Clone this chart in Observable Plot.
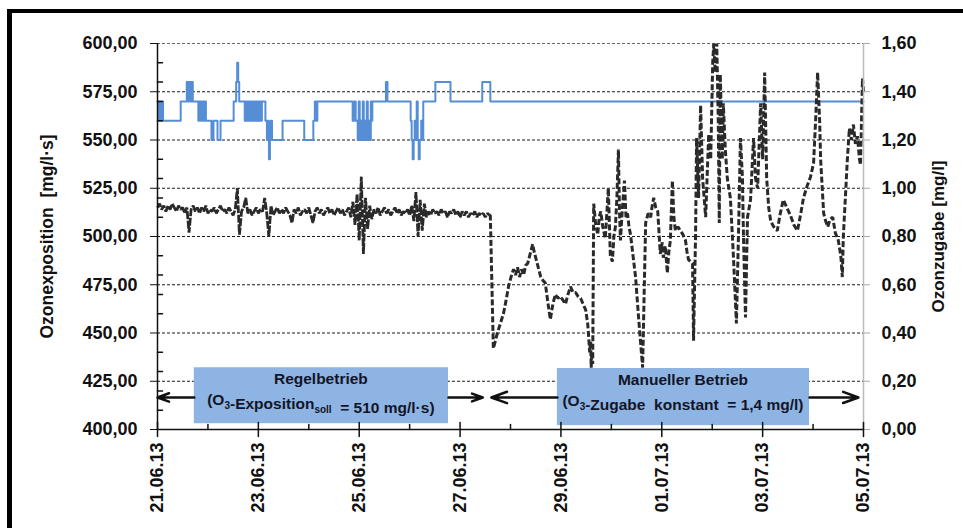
<!DOCTYPE html>
<html><head><meta charset="utf-8">
<script src="https://cdn.jsdelivr.net/npm/d3@7"></script>
<script src="https://cdn.jsdelivr.net/npm/@observablehq/plot@0.6"></script>
<style>
body{margin:0;background:#fff;}
#wrap{position:relative;width:963px;height:528px;overflow:hidden;background:#fff;}
#frame{position:absolute;left:7px;top:9px;width:970px;height:540px;border-left:5px solid #000;border-top:4px solid #000;box-sizing:border-box;pointer-events:none}
</style></head><body><div id="wrap"><div id="chart"></div><div id="frame"></div></div>
<script>
const start = Date.UTC(2013, 5, 21);
const DAY = 864e5;
const xMajorDays = [0, 2, 4, 6, 8, 10, 12, 14];
const xMinorDays = [1, 3, 5, 7, 9, 11, 13];
const yTicks = [400, 425, 450, 475, 500, 525, 550, 575, 600];
const yMinor = [410, 420, 430, 440, 460, 470, 480, 490, 510, 520, 530, 540, 560, 570, 580, 590];

// Ozonexposition [mg/l·s], hourly, 21.06.13 00:00 onwards (Regelbetrieb)
const expHourly = [
515,517,514,516,513,516,514,517,515,513,
516,514,515,512,515,502,514,516,513,515,
512,515,513,516,512,514,513,515,512,514,
516,513,514,512,515,513,511,514,525,501,
513,515,520,512,514,511,513,515,512,514,
513,520,512,500,516,511,513,515,512,514,
512,515,513,511,507,514,512,515,511,513,
514,512,515,511,507,513,515,512,514,511,
513,515,512,514,511,513,515,512,514,511,
513,515,510,518,506,522,498,531,491,520,
504,516,509,514,512,515,511,513,515,512,
514,511,513,515,512,514,511,513,512,514,
511,516,508,523,500,519,503,517,510,513,
511,514,512,513,511,514,512,513,510,513,
512,514,511,513,510,513,511,513,510,512,
511,513,510,512,511,512,510,512,511
];
// Ozonexposition [mg/l·s], manual operation: [days since 21.06.13, value]
const expManual = [
[6.583,511],[6.60,511],[6.66,442],[6.70,446],[6.74,450],[6.80,455],[6.86,460],[6.92,468],[6.96,474],[7.01,479],[7.06,483],
[7.10,480],[7.14,484],[7.18,479],[7.22,483],[7.26,480],[7.30,485],[7.34,486],[7.39,491],[7.44,496],[7.47,492],
[7.50,489],[7.55,484],[7.60,479],[7.65,477],[7.69,476],[7.74,466],[7.79,457],[7.84,465],[7.89,470],[7.94,468],
[7.99,469],[8.04,467],[8.09,465],[8.14,470],[8.19,474],[8.24,471],[8.29,471],[8.34,469],[8.39,468],[8.44,465],
[8.49,462],[8.53,455],[8.55,448],[8.57,440],[8.59,446],[8.60,432],[8.61,438],[8.63,434],[8.65,517],[8.69,506],
[8.73,501],[8.76,510],[8.79,513],[8.83,505],[8.88,499],[8.91,512],[8.94,525],[8.98,490],[9.02,487],[9.05,500],
[9.08,505],[9.11,520],[9.14,545],[9.16,515],[9.18,498],[9.22,515],[9.26,529],[9.29,510],[9.32,512],[9.35,505],
[9.38,501],[9.43,490],[9.48,479],[9.54,458],[9.58,445],[9.62,432],[9.65,470],[9.68,507],[9.73,512],[9.78,510],
[9.81,516],[9.84,520],[9.88,515],[9.92,513],[9.95,500],[9.97,491],[10.01,497],[10.03,489],[10.07,495],[10.11,481],
[10.14,492],[10.17,498],[10.21,529],[10.24,510],[10.27,503],[10.32,505],[10.37,503],[10.42,501],[10.47,498],[10.50,492],
[10.53,488],[10.57,487],[10.61,486],[10.63,446],[10.67,501],[10.69,551],[10.73,520],[10.77,568],[10.81,530],[10.87,510],
[10.93,553],[10.97,540],[11.01,590],[11.03,600],[11.06,585],[11.09,600],[11.12,560],[11.14,507],[11.16,584],[11.20,540],
[11.22,569],[11.26,545],[11.30,530],[11.36,520],[11.42,490],[11.48,455],[11.52,500],[11.56,551],[11.60,530],[11.62,500],
[11.66,458],[11.70,510],[11.76,519],[11.82,551],[11.86,530],[11.90,525],[11.96,569],[12.00,540],[12.04,585],[12.08,530],
[12.12,515],[12.16,508],[12.22,505],[12.29,503],[12.35,512],[12.41,519],[12.48,515],[12.55,511],[12.62,506],[12.69,503],
[12.75,511],[12.81,520],[12.88,526],[12.95,531],[13.01,538],[13.05,560],[13.09,585],[13.13,560],[13.15,540],[13.21,512],
[13.25,508],[13.29,505],[13.34,509],[13.39,510],[13.44,502],[13.50,498],[13.55,490],[13.58,479],[13.60,500],[13.68,540],
[13.72,556],[13.76,550],[13.80,558],[13.84,548],[13.88,552],[13.92,540],[13.94,537],[13.98,582],[14.00,575]
];
// Ozonzugabe [mg/l]: [days since 21.06.13, value] (step)
const zugabe = [
[0,1.36],[0.03,1.28],[0.05,1.36],[0.07,1.28],[0.09,1.36],[0.11,1.28],[0.46,1.36],
[0.58,1.44],[0.61,1.36],[0.63,1.44],[0.66,1.36],[0.68,1.44],[0.70,1.36],
[0.81,1.28],[0.83,1.36],[0.86,1.28],[0.88,1.36],[0.91,1.28],[0.93,1.36],[0.96,1.28],
[1.07,1.20],[1.11,1.28],[1.19,1.20],[1.25,1.28],[1.51,1.36],
[1.56,1.44],[1.58,1.52],[1.60,1.44],[1.62,1.36],
[1.73,1.28],[1.75,1.36],[1.77,1.28],[1.79,1.36],[1.81,1.28],[1.83,1.36],[1.85,1.28],[1.87,1.36],[1.89,1.28],
[1.91,1.36],[1.93,1.28],[1.95,1.36],[1.97,1.28],[1.99,1.36],[2.01,1.28],[2.03,1.36],[2.05,1.28],[2.07,1.36],
[2.14,1.28],[2.17,1.20],[2.19,1.28],[2.21,1.12],[2.23,1.20],[2.25,1.28],[2.27,1.20],
[2.48,1.28],[2.91,1.20],[3.09,1.28],[3.12,1.36],[3.14,1.28],[3.17,1.36],
[3.87,1.28],[3.90,1.36],[3.93,1.28],
[3.97,1.20],[3.99,1.36],[4.01,1.20],[4.03,1.28],[4.05,1.20],[4.07,1.36],[4.09,1.20],[4.11,1.28],[4.13,1.20],
[4.15,1.36],[4.17,1.20],[4.19,1.28],[4.21,1.20],[4.23,1.36],[4.25,1.28],[4.26,1.36],
[4.53,1.44],[4.56,1.36],
[5.02,1.28],[5.04,1.20],[5.06,1.12],[5.08,1.20],[5.10,1.28],[5.12,1.20],[5.14,1.36],[5.16,1.20],[5.18,1.12],
[5.20,1.20],[5.23,1.28],[5.25,1.20],[5.27,1.36],
[5.51,1.44],[5.81,1.36],[6.44,1.44],[6.60,1.36],[14,1.36]
];
const labels = {
  left: "Ozonexposition\u00A0\u00A0[mg/l·s]",
  right: "Ozonzugabe [mg/l]",
  box1a: "Regelbetrieb",
  box2a: "Manueller Betrieb"
};
// annotation layout (days / left-axis units)
const boxes = [
  {x1: 0.73, x2: 5.77, y1: 403, y2: 432},
  {x1: 7.93, x2: 12.93, y1: 402, y2: 431.6}
];
const arrows = [
  {x1: 0.73, x2: 0.0, y: 416.6},
  {x1: 5.77, x2: 6.45, y: 416.6},
  {x1: 7.93, x2: 6.62, y: 416.6},
  {x1: 12.93, x2: 13.9, y: 416.6}
];

const D = d => new Date(start + d * DAY);
const toLeft = v => 400 + v * 125;
const comma = v => v.toFixed(2).replace(".", ",");
const expReg = expHourly.map((v, h) => ({t: new Date(start + h * 36e5), v}));
const expMan = expManual.map(([d, v]) => ({t: D(d), v}));
const zug = zugabe.map(([d, v]) => ({t: D(d), y: toLeft(v)}));
const line = {draw(ctx, l) { ctx.moveTo(0, 0); ctx.lineTo(0, -l); }};
const FONT = "'Liberation Sans', Arial, sans-serif";

const chart = Plot.plot({
  width: 963, height: 528,
  marginLeft: 157, marginRight: 100, marginTop: 43, marginBottom: 99,
  style: {fontFamily: FONT, background: "white", color: "#111", overflow: "visible"},
  x: {type: "utc", domain: [D(0), D(14)]},
  y: {domain: [400, 600]},
  marks: [
    Plot.ruleY(yTicks.filter(v => v > 400 && v < 600), {stroke: "#1a1a1a", strokeDasharray: "3,2", strokeWidth: 1}),
    Plot.ruleY([600], {stroke: "#666", strokeDasharray: "3,2", strokeWidth: 1}),
    Plot.line(zug, {x: "t", y: "y", curve: "step-after", stroke: "#558ed5", strokeWidth: 2}),
    Plot.line(expReg, {x: "t", y: "v", stroke: "#2a2a2a", strokeWidth: 2.8, strokeDasharray: "8,1.5", strokeLinecap: "butt", strokeLinejoin: "miter"}),
    Plot.line(expMan, {x: "t", y: "v", stroke: "#2a2a2a", strokeWidth: 3, strokeDasharray: "6,2.5", strokeLinecap: "butt", strokeLinejoin: "miter"}),
    Plot.rect(boxes, {x1: d => D(d.x1), x2: d => D(d.x2), y1: "y1", y2: "y2", fill: "#8db4e2"}),
    Plot.arrow(arrows, {x1: d => D(d.x1), x2: d => D(d.x2), y1: "y", y2: "y", stroke: "#111", strokeWidth: 2.5, headLength: 10, headAngle: 40}),
    Plot.ruleX([D(0)], {stroke: "#111", strokeWidth: 1.5}),
    Plot.ruleX([D(14)], {stroke: "#bbb", strokeWidth: 1.5}),
    Plot.ruleY([400], {stroke: "#111", strokeWidth: 1.5}),
    Plot.axisY({anchor: "left", ticks: yTicks, tickFormat: comma, tickSize: 7, tickPadding: 13, fontSize: 18, fontWeight: "bold", label: null}),
    Plot.vector(yMinor, {x: () => D(0), y: d => d, rotate: 90, length: 5, anchor: "start", shape: line, stroke: "#111"}),
    Plot.axisY({anchor: "right", ticks: yTicks, tickFormat: v => comma((v - 400) / 125), tickSize: 6, tickPadding: 12, fontSize: 18, fontWeight: "bold", stroke: "#aaa", fill: "#111", label: null}),
    Plot.axisX({ticks: xMajorDays.map(D), tickFormat: d3.utcFormat("%d.%m.%y"), tickRotate: -90, tickSize: 0, tickPadding: 13, fontSize: 18, fontWeight: "bold", label: null}),
    Plot.vector(xMajorDays, {x: d => D(d), y: () => 400, length: 14, anchor: "middle", shape: line, stroke: "#111", strokeWidth: 1.5}),
    Plot.vector(xMinorDays, {x: d => D(d), y: () => 400, length: 5, anchor: "start", shape: line, stroke: "#111", strokeWidth: 1.5}),
    Plot.text([labels.left], {frameAnchor: "left", dx: -110, rotate: -90, textAnchor: "middle", fontSize: 17.5, fontWeight: "bold", fill: "#111"}),
    Plot.text([labels.right], {frameAnchor: "right", dx: 75, rotate: -90, textAnchor: "middle", fontSize: 17, fontWeight: "bold", fill: "#111"})
  ]
});
document.getElementById("chart").appendChild(chart);

// box texts with subscripts
const sx = chart.scale("x"), sy = chart.scale("y");
const svg = d3.select(chart);
const g = svg.append("g").attr("font-family", FONT).attr("font-weight", "bold").attr("font-size", 15.5)
  .attr("fill", "#141428").attr("text-anchor", "middle");
function boxText(b, title, parts) {
  const cx = (sx.apply(D(b.x1)) + sx.apply(D(b.x2))) / 2;
  const ytop = sy.apply(b.y2);
  g.append("text").attr("x", cx).attr("y", ytop + 17).text(title);
  const t = g.append("text").attr("x", cx).attr("y", ytop + 38).attr("xml:space", "preserve");
  parts.forEach(([s, sub]) => {
    t.append("tspan").attr("font-size", sub ? 10 : 15.5).attr("dy", sub ? 4 : 0).text(s);
    if (sub) t.append("tspan").attr("dy", -4).text("");
  });
}
boxText(boxes[0], labels.box1a, [["(O", 0], ["3", 1], ["-Exposition", 0], ["soll", 1], ["\u00A0 = 510 mg/l·s)", 0]]);
boxText(boxes[1], labels.box2a, [["(O", 0], ["3", 1], ["-Zugabe\u00A0 konstant\u00A0 = 1,4 mg/l)", 0]]);
</script>
</body></html>
